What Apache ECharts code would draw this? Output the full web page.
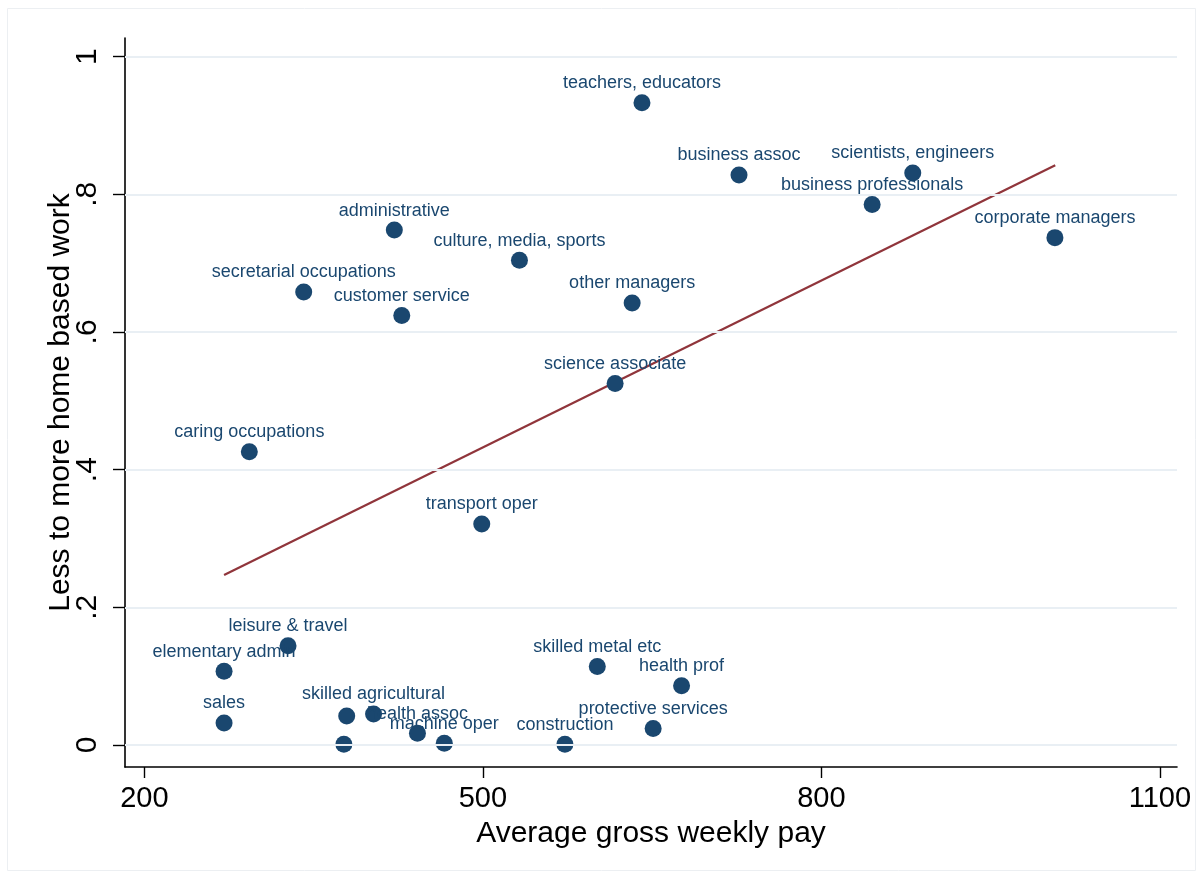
<!DOCTYPE html>
<html>
<head>
<meta charset="utf-8">
<title>Home based work vs weekly pay</title>
<script src="https://cdn.jsdelivr.net/npm/echarts@6/dist/echarts.min.js"></script>
<style>
  html, body { margin: 0; padding: 0; background: #ffffff; }
  #chart { width: 1203px; height: 878px; }
</style>
</head>
<body>
<div id="chart"></div>
<script>
// Occupation groups (empty name = unlabelled marker)
const occupations = [
  'teachers, educators', 'business assoc', 'scientists, engineers', 'business professionals',
  'corporate managers', 'administrative', 'culture, media, sports', 'secretarial occupations',
  'customer service', 'other managers', 'science associate', 'caring occupations',
  'transport oper', 'leisure & travel', 'elementary admin', 'sales', '',
  'skilled agricultural', '', 'health assoc', 'machine oper', 'construction',
  'skilled metal etc', 'health prof', 'protective services'
];
// Average gross weekly pay
const weeklyPay = [
  641, 727, 881, 845,
  1007, 421.5, 532.4, 341.2,
  428.1, 632.3, 617.2, 293,
  499, 327.3, 270.6, 270.6, 379.3,
  403.1, 376.8, 442, 465.8, 572.7,
  601.4, 676.1, 650.9
];
// Less to more home based work (share)
const homeShare = [
  0.933, 0.828, 0.831, 0.785,
  0.737, 0.748, 0.704, 0.658,
  0.624, 0.642, 0.525, 0.426,
  0.321, 0.144, 0.107, 0.032, 0.042,
  0.045, 0.001, 0.017, 0.0025, 0.001,
  0.114, 0.086, 0.024
];
// Linear fit endpoints
const fitPay = [270.6, 1007.3];
const fitShare = [0.247, 0.842];
// Axis ticks
const xTicks = [200, 500, 800, 1100];
const xTickLabels = ['200', '500', '800', '1100'];
const yTicks = [0, 0.2, 0.4, 0.6, 0.8, 1];
const yTickLabels = ['0', '.2', '.4', '.6', '.8', '1'];

const FONT = "'Liberation Sans', Arial, sans-serif";
const NAVY = '#1a476f';
const MAROON = '#90353b';

function tickText(ticks, labels) {
  return function (v) {
    const i = ticks.findIndex(t => Math.abs(t - v) < 1e-9);
    return i >= 0 ? labels[i] : '';
  };
}

const chart = echarts.init(document.getElementById('chart'), null, { renderer: 'canvas' });

chart.setOption({
  backgroundColor: '#ffffff',
  animation: false,
  graphic: [{
    type: 'rect',
    silent: true,
    z: -10,
    shape: { x: 7.5, y: 8.5, width: 1188, height: 862 },
    style: { fill: null, stroke: '#eceff2', lineWidth: 1 }
  }],
  grid: { left: 125, right: 26, top: 38, bottom: 111, containLabel: false },
  xAxis: {
    type: 'value',
    min: 182.8,
    max: 1115.2,
    name: 'Average gross weekly pay',
    nameLocation: 'middle',
    nameGap: 52,
    nameMoveOverlap: false,
    nameTextStyle: { fontFamily: FONT, fontSize: 30, color: '#000' },
    axisLine: { show: true, onZero: false, lineStyle: { color: '#000', width: 1.6 } },
    axisTick: { show: true, customValues: xTicks, length: 11, lineStyle: { color: '#000', width: 1.4 } },
    axisLabel: {
      customValues: xTicks,
      fontFamily: FONT,
      fontSize: 29,
      color: '#000',
      margin: 17,
      formatter: tickText(xTicks, xTickLabels)
    },
    splitLine: { show: false }
  },
  yAxis: {
    type: 'value',
    min: -0.032,
    max: 1.027,
    name: 'Less to more home based work',
    nameLocation: 'middle',
    nameGap: 49,
    nameMoveOverlap: false,
    nameRotate: 90,
    nameTextStyle: { fontFamily: FONT, fontSize: 30, color: '#000' },
    axisLine: { show: true, onZero: false, lineStyle: { color: '#000', width: 1.6 } },
    axisTick: { show: true, customValues: yTicks, length: 12, lineStyle: { color: '#000', width: 1.4 } },
    axisLabel: {
      customValues: yTicks,
      rotate: 90,
      margin: 22,
      fontFamily: FONT,
      fontSize: 30,
      color: '#000',
      formatter: tickText(yTicks, yTickLabels)
    },
    splitLine: { show: false }
  },
  series: [
    {
      // horizontal grid lines at the y ticks
      type: 'line',
      data: [],
      silent: true,
      z: 1,
      markLine: {
        silent: true,
        symbol: ['none', 'none'],
        label: { show: false },
        lineStyle: { color: '#e9eff4', width: 2, type: 'solid' },
        data: yTicks.map(v => ({ yAxis: v }))
      }
    },
    {
      type: 'scatter',
      z: 3,
      symbol: 'circle',
      symbolSize: 17,
      itemStyle: { color: NAVY, opacity: 1 },
      label: {
        show: true,
        position: 'top',
        distance: 2,
        fontFamily: FONT,
        fontSize: 18,
        color: NAVY,
        formatter: p => p.name
      },
      data: occupations.map((n, i) => ({ name: n, value: [weeklyPay[i], homeShare[i]] }))
    },
    {
      type: 'line',
      z: 2,
      symbol: 'none',
      silent: true,
      lineStyle: { color: MAROON, width: 2.2 },
      data: fitPay.map((x, i) => [x, fitShare[i]])
    }
  ]
});
</script>
</body>
</html>
